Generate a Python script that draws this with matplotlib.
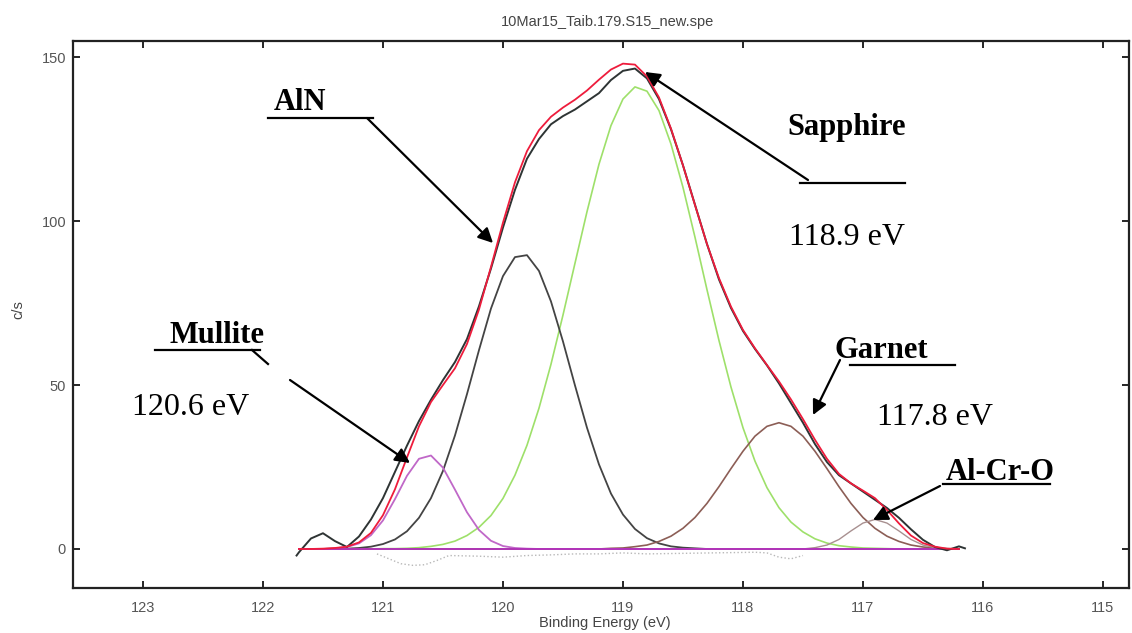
import matplotlib.pyplot as plt
from matplotlib.lines import Line2D

# binding energy grid (eV), 0.1 eV steps from 121.7 down to 116.2
energy = [121.7, 121.6, 121.5, 121.4, 121.3, 121.2, 121.1, 121.0, 120.9, 120.8,
          120.7, 120.6, 120.5, 120.4, 120.3, 120.2, 120.1, 120.0, 119.9, 119.8,
          119.7, 119.6, 119.5, 119.4, 119.3, 119.2, 119.1, 119.0, 118.9, 118.8,
          118.7, 118.6, 118.5, 118.4, 118.3, 118.2, 118.1, 118.0, 117.9, 117.8,
          117.7, 117.6, 117.5, 117.4, 117.3, 117.2, 117.1, 117.0, 116.9, 116.8,
          116.7, 116.6, 116.5, 116.4, 116.3, 116.2]

# fitted components (c/s)
aln = [0, 0, 0, 0.1, 0.1, 0.3, 0.7, 1.5, 2.9, 5.4,
       9.5, 15.5, 23.8, 34.6, 47.2, 60.6, 73.3, 83.2, 89.0, 89.6,
       84.8, 75.5, 63.3, 49.9, 37.0, 25.8, 16.9, 10.5, 6.1, 3.3,
       1.7, 0.8, 0.4, 0.2] + [0.0] * 22
mullite = [0, 0, 0, 0.2, 0.6, 1.7, 4.2, 8.7, 15.2, 22.3,
           27.5, 28.5, 24.8, 18.1, 11.2, 5.8, 2.5, 0.9, 0.3, 0.1] + [0.0] * 36
sapphire = [0.0] * 7 + [0.1, 0.1, 0.2, 0.4, 0.8, 1.4, 2.4, 4.1, 6.6, 10.2,
                        15.4, 22.5, 31.6, 42.9, 56.3, 71.3, 87.1, 102.8, 117.3, 129.1,
                        137.2, 140.9, 139.6, 133.7, 123.5, 110.3, 95.1, 79.1, 63.6, 49.4,
                        37.0, 26.8, 18.7, 12.6, 8.2, 5.2, 3.1, 1.8, 1.0, 0.6,
                        0.3, 0.2, 0.1] + [0.0] * 6
garnet = [0.0] * 26 + [0.2, 0.3, 0.7, 1.2, 2.3, 3.9, 6.3, 9.6, 13.9, 19.0,
                       24.5, 29.8, 34.4, 37.4, 38.5, 37.4, 34.4, 29.8, 24.5, 19.0,
                       13.9, 9.6, 6.3, 3.9, 2.3, 1.2, 0.6, 0.3, 0.1, 0.0]
alcro = [0.0] * 43 + [0.4, 1.2, 2.9, 5.5, 7.9, 9.0, 7.9, 5.5, 2.9, 1.2, 0.4, 0.1, 0.0]

# fit envelope
envelope = [0, 0, 0.1, 0.3, 0.7, 2.0, 4.9, 10.3, 18.2, 27.9,
            37.4, 44.8, 50.0, 55.1, 62.5, 73.0, 86.0, 99.5, 111.8, 121.3,
            127.7, 131.8, 134.6, 137.0, 139.8, 143.1, 146.2, 148.0, 147.7, 144.1,
            137.7, 128.2, 117.0, 104.9, 93.0, 82.6, 73.9, 66.8, 61.2, 56.1,
            51.1, 45.6, 39.6, 33.3, 27.5, 22.9, 20.0, 17.8, 15.5, 11.9,
            7.8, 4.1, 1.8, 0.7, 0.1, 0]

# measured spectrum
data_energy = [121.72] + energy + [116.15]
data_counts = [-2.0,
               -1.0, 3.2, 4.8, 2.4, 0.6, 3.8, 9.0, 15.5, 23.5, 31.5,
               39.0, 45.5, 51.5, 57.0, 64.0, 74.0, 85.5, 98.0, 109.5, 119.0,
               125.0, 129.5, 132.0, 134.0, 136.5, 139.0, 143.0, 145.8, 146.5, 143.5,
               137.2, 128.0, 117.0, 105.0, 93.0, 82.2, 73.5, 66.5, 61.0, 56.0,
               50.5, 44.5, 38.5, 32.0, 26.5, 22.5, 20.0, 17.5, 15.0, 12.5,
               9.5, 6.0, 2.8, 0.6, -0.4, 0.8,
               0.2]

# residual (faint dots under the baseline)
resid_energy = [121.05, 120.95, 120.85, 120.75, 120.65, 120.55, 120.45, 120.2, 120.0, 119.8,
                119.6, 119.4, 119.2, 119.0, 118.8, 117.9, 117.8, 117.7, 117.6, 117.5]
resid_counts = [-1.5, -3.0, -4.5, -5.0, -4.8, -3.5, -2.0, -2.2, -2.5, -2.0,
                -1.8, -1.5, -1.5, -1.2, -1.5, -1.0, -1.2, -2.5, -3.0, -2.0]

xticks = [123, 122, 121, 120, 119, 118, 117, 116, 115]
yticks = [0, 50, 100, 150]

W, H = 1132, 633


def fpos(x, y):
    # image pixel -> figure fraction
    return x / W, 1 - y / H


fig = plt.figure(figsize=(W / 100, H / 100), dpi=100)
ax = fig.add_axes([73 / W, 1 - 588 / H, (1129 - 73) / W, (588 - 41) / H])

ax.plot(resid_energy, resid_counts, ls=':', color='#b8b8b8', lw=1.0)
ax.plot(energy, sapphire, color='#9ee06a', lw=1.2)
ax.plot(energy, aln, color='#444444', lw=1.3)
ax.plot(energy, garnet, color='#8c5e56', lw=1.2)
ax.plot(energy, alcro, color='#a89090', lw=1.0)
ax.plot(energy, mullite, color='#c068c8', lw=1.3)
ax.plot([energy[0], energy[-1]], [0, 0], color='#b030b8', lw=1.3)
ax.plot(data_energy, data_counts, color='#2e3434', lw=1.4)
ax.plot(energy, envelope, color='#ee1c3c', lw=1.3)

ax.set_xlim(123.583, 114.783)
ax.set_ylim(-11.9, 154.9)
ax.set_xticks(xticks)
ax.set_yticks(yticks)
ax.tick_params(direction='in', top=True, right=True, length=5, width=1.2,
               labelsize=10.5, labelcolor='#555555')
ax.tick_params(axis='x', pad=9)
ax.tick_params(axis='y', pad=5)
for lbl in ax.get_xticklabels() + ax.get_yticklabels():
    lbl.set_family('Liberation Sans')
for s in ax.spines.values():
    s.set_linewidth(1.6)
    s.set_color('#222222')

sans = 'Liberation Sans'
serif = 'Liberation Serif'
fig.text(*fpos(607, 22), '10Mar15_Taib.179.S15_new.spe', ha='center', va='center',
         fontsize=10.5, color='#444444', family=sans)
fig.text(*fpos(605, 623), 'Binding Energy (eV)', ha='center', va='center',
         fontsize=10.5, color='#444444', family=sans)
fig.text(*fpos(18, 310), 'c/s', ha='center', va='center', rotation=90,
         fontsize=10.5, color='#444444', family=sans)

# peak labels
labels = [('AlN', 300, 110, True), ('Sapphire', 847, 135, True), ('118.9 eV', 847, 245, False),
          ('Mullite', 217, 343, True), ('120.6 eV', 191, 415, False),
          ('Garnet', 881, 358, True), ('117.8 eV', 935, 425, False), ('Al-Cr-O', 1000, 480, True)]
for txt, x, y, bold in labels:
    fig.text(*fpos(x, y), txt, ha='center', va='baseline', family=serif,
             fontsize=22 if bold else 23, fontweight='bold' if bold else 'normal')

# underlines and leader lines
segs = [((268, 118), (373, 118)), ((800, 183), (905, 183)), ((155, 350), (260, 350)),
        ((850, 365), (955, 365)), ((943, 484), (1050, 484)), ((252, 350), (268, 364))]
for (x0, y0), (x1, y1) in segs:
    a, b = fpos(x0, y0)
    c, d = fpos(x1, y1)
    fig.add_artist(Line2D([a, c], [b, d], transform=fig.transFigure, color='black', lw=1.6))

arrows = [((367, 118), (493, 243)), ((808, 180), (645, 72)), ((290, 380), (410, 463)),
          ((840, 360), (813, 415)), ((940, 486), (873, 520))]
for start, tip in arrows:
    ax.annotate('', xy=fpos(*tip), xycoords='figure fraction', xytext=fpos(*start),
                textcoords='figure fraction',
                arrowprops=dict(arrowstyle='-|>', mutation_scale=22, color='black', lw=1.6,
                                shrinkA=0, shrinkB=0))

fig.savefig('out.png', dpi=100)
